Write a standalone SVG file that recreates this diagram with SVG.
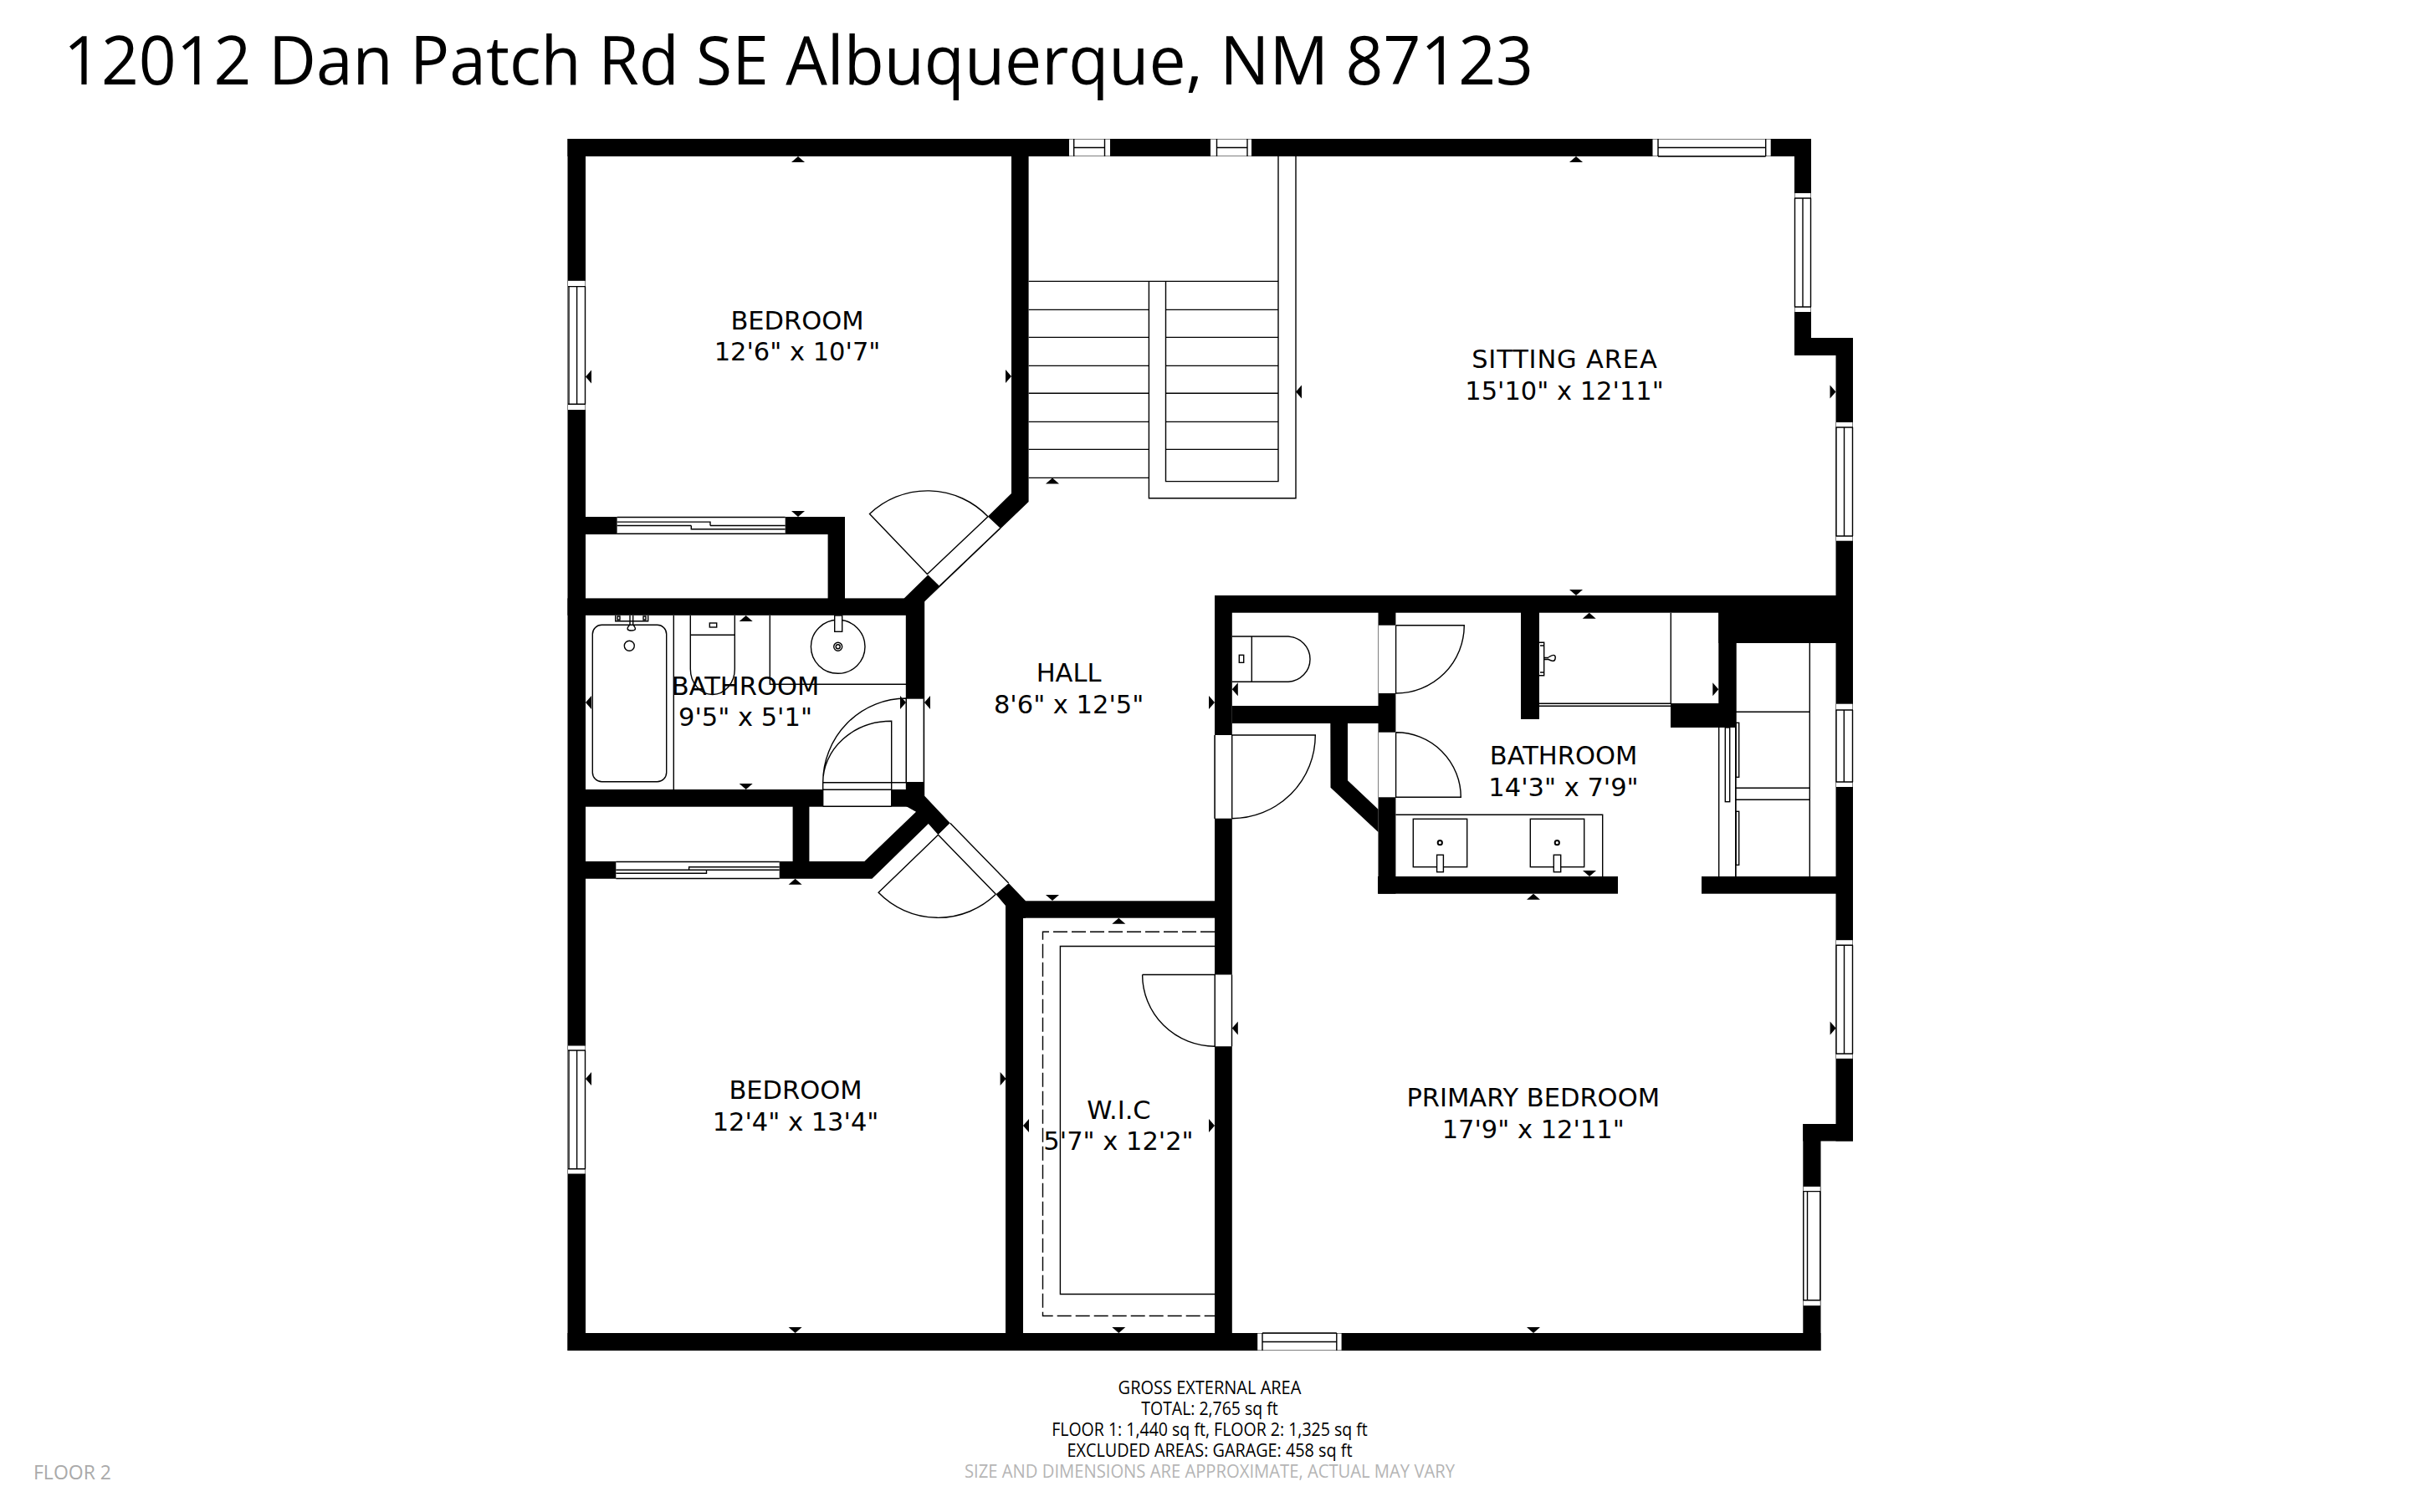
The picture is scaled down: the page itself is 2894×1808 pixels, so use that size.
<svg xmlns="http://www.w3.org/2000/svg" width="2894" height="1808" viewBox="0 0 2894 1808">
<style>
.w{fill:#000}
.o{fill:#fff}
.l{fill:none;stroke:#000;stroke-width:1.4}
.d{fill:none;stroke:#000;stroke-width:1.4;stroke-dasharray:17 5}
.t{font-family:"DejaVu Sans",Verdana,sans-serif;font-size:30.5px;text-anchor:middle;fill:#000}
.f{font-family:"Open Sans","Noto Sans",sans-serif;font-size:21px;text-anchor:middle;fill:#000}
.g{fill:#b5b5b5}
.p{font-family:"Open Sans","Noto Sans",sans-serif;font-size:23px;fill:#aaa}
.h{font-family:"Open Sans","Noto Sans",sans-serif;font-size:81px;fill:#000}
</style>
<defs>
<path id="u" d="M-8 7H8L0 0Z"/>
<path id="n" d="M-8 -7H8L0 0Z"/>
<path id="r" d="M-7 -8V8L0 0Z"/>
<path id="e" d="M7 -8V8L0 0Z"/>
</defs>
<rect width="2894" height="1808" fill="#fff"/>
<text id="title" class="h" x="76" y="100.5" textLength="1757" lengthAdjust="spacingAndGlyphs">12012 Dan Patch Rd SE Albuquerque, NM 87123</text>

<g id="stairs" class="l">
<path d="M1229.6 336.4H1528M1229.6 370.4H1373.4M1393.5 370.4H1528M1229.6 403.4H1373.4M1393.5 403.4H1528M1229.6 437.4H1373.4M1393.5 437.4H1528M1229.6 470.3H1373.4M1393.5 470.3H1528M1229.6 504.4H1373.4M1393.5 504.4H1528M1229.6 537.4H1373.4M1393.5 537.4H1528M1229.6 571.4H1373.4"/>
<path d="M1528 187V575.6H1393.5V336.4M1549 187V595.8H1373.4V336.4"/>
</g>

<g id="fixtures" class="l">
<rect x="708.3" y="747.3" width="88.4" height="187.4" rx="11"/>
<path d="M805.3 736V944"/>
<path d="M735.7 736V742.7H774.7V736M738 737V741H741V737ZM769 737V741H772V737Z"/>
<path d="M753 736V747M756.7 736V747M753 747C748 752 750 754 755 754S761 752 756.7 747"/>
<circle cx="752.3" cy="772.3" r="6"/>
<path d="M825.3 736V800A26.5 30.5 0 0 0 878.3 800V736M825.3 759.3H878.3"/>
<rect x="848.3" y="745" width="8.4" height="5"/>
<path d="M920.3 736V818.3H1083"/>
<ellipse cx="1001.7" cy="773.3" rx="32.3" ry="32"/>
<rect x="997.7" y="736" width="9" height="19.3" fill="#fff"/>
<circle cx="1001.7" cy="773.3" r="5"/><circle cx="1001.7" cy="773.3" r="2.5"/>
<path d="M1472.8 761H1540A27.7 27.2 0 0 1 1540 815.3H1472.8M1496.3 761V815.3"/>
<rect x="1481.3" y="783.3" width="5.4" height="9"/>
<path d="M1840 768.3H1845.7V807.7H1840M1841 772H1845M1841 804H1845M1845.7 786.5H1851M1845.7 788.5H1851C1854 790 1858 792 1859 788S1858 781 1851 786"/>
<path d="M1840 841.3H1997.3M1840 844.3H1997.3M1997.3 732.7V841.3"/>
<path d="M1668.4 974.3H1915.7V1048"/>
<rect x="1689.3" y="979.3" width="64.4" height="57.4"/>
<rect x="1829.3" y="979.3" width="64.4" height="57.4"/>
<rect x="1717.6" y="1022.3" width="7.8" height="20.4" fill="#fff"/>
<rect x="1857.3" y="1022.3" width="8.4" height="20.4" fill="#fff"/>
<circle cx="1721.3" cy="1007.7" r="2.6" stroke-width="2"/>
<circle cx="1861.3" cy="1007.7" r="2.6" stroke-width="2"/>
<path d="M2075 769V1048M2163.3 769V1048M2075 851.3H2163.3M2075 942.3H2163.3M2075 956.3H2163.3M2054.7 870V1048M2074.7 870V1048"/>
<rect x="2062.3" y="870" width="5.4" height="88.7"/>
<rect x="2075" y="864.3" width="3.7" height="65"/>
<rect x="2075" y="970.3" width="3.7" height="64"/>
<path class="d" d="M1452 1114.2H1246.5V1573.5H1452"/>
<path d="M1452 1131.5H1267.4V1547.5H1452"/>
</g>

<g id="walls" class="w">
<rect x="678.5" y="166" width="1486.5" height="21"/>
<rect x="678.5" y="166" width="21.5" height="1449"/>
<rect x="678.5" y="1594" width="1498" height="21"/>
<rect x="2145" y="166" width="20" height="259"/>
<rect x="2145" y="404" width="70" height="21"/>
<rect x="2194.5" y="404" width="20.5" height="960.5"/>
<rect x="2155.3" y="1344" width="59.7" height="20.5"/>
<rect x="2155.3" y="1344" width="21.2" height="271"/>
<polygon points="1209,166 1229.6,166 1229.6,600 1105,719.4 1105,735 1080.7,735 1080.7,715.4 1209,590"/>
<rect x="700" y="618" width="310" height="21"/>
<rect x="989.6" y="618" width="20.4" height="100"/>
<rect x="678.5" y="715.4" width="426.5" height="20.4"/>
<rect x="1082.8" y="715" width="22.4" height="237"/>
<rect x="679" y="944" width="426" height="20.7"/>
<rect x="947.6" y="964" width="19.8" height="70"/>
<polygon points="700,1030 1033.3,1030 1095,970.7 1083,964 1105.2,951.7 1135.8,984.3 1121.5,998.3 1109.8,985 1042.4,1050.7 700,1050.7"/>
<polygon points="1190.4,1069.3 1205.7,1056 1226,1077.3 1226,1097.7 1202,1097.7 1202,1083"/>
<rect x="1202" y="1077.3" width="250" height="20.4"/>
<rect x="1202" y="1077.3" width="21" height="525"/>
<rect x="1452" y="712" width="20.8" height="903"/>
<rect x="1452" y="712" width="763" height="20.7"/>
<rect x="2054.3" y="712" width="160.7" height="57"/>
<rect x="2054.3" y="732" width="20.7" height="138"/>
<rect x="1997" y="841" width="78" height="29"/>
<rect x="1818" y="732" width="22" height="128"/>
<rect x="1647.5" y="732" width="20.9" height="336.7"/>
<rect x="1472.8" y="844" width="195" height="21"/>
<polygon points="1590.3,860 1611,860 1611,933.3 1647.5,967.7 1647.5,995 1590.5,941.7"/>
<rect x="1647" y="1048" width="287" height="20.7"/>
<rect x="2034" y="1048" width="181" height="20.7"/>
</g>

<g id="openings" class="o">
<rect x="1278" y="166.5" width="49" height="20"/>
<rect x="1447" y="166.5" width="49" height="20"/>
<rect x="1975.5" y="166.5" width="141.2" height="20"/>
<rect x="1503.2" y="1594.5" width="100.4" height="20"/>
<rect x="679" y="335.8" width="20.5" height="154.2"/>
<rect x="679" y="1250.5" width="20.5" height="153"/>
<rect x="2145.5" y="231" width="19" height="142"/>
<rect x="2195" y="505" width="19.5" height="141.7"/>
<rect x="2195" y="841.7" width="19.5" height="99.3"/>
<rect x="2195" y="1124.2" width="19.5" height="141.6"/>
<rect x="2155.8" y="1418.9" width="20" height="142.3"/>
<rect x="737.6" y="618.3" width="201.1" height="20"/>
<rect x="736.3" y="1030.4" width="195.4" height="20"/>
<polygon points="1181,617.8 1195.6,631.6 1123,700.8 1108.4,686.6"/>
<polygon points="1121.5,998.3 1135.8,984.3 1205.7,1056 1190.4,1069.3"/>
<rect x="1083.3" y="835.7" width="21" height="99.6"/>
<rect x="983.7" y="944" width="82" height="20.3"/>
<rect x="1452.5" y="879" width="20" height="99.7"/>
<rect x="1452.5" y="1165.5" width="20" height="85.7"/>
<rect x="1648" y="747.7" width="20.5" height="81.3"/>
<rect x="1648" y="875.7" width="20.5" height="77.6"/>
</g>

<g id="windows" class="l">
<path d="M1283.7 166V187M1320.5 166V187M1283.7 176.5H1320.5"/>
<path d="M1454.5 166V187M1491 166V187M1454.5 176.5H1491"/>
<path d="M1982 166V187M2110.7 166V187M1982 176.5H2110.7M1982 187H2110.7"/>
<path d="M1509 1594V1615M1597.8 1594V1615M1509 1604.5H1597.8M1509 1594H1597.8"/>
<path d="M679 342.6H700M679 483.3H700M689.6 342.6V483.3M680 342.6V483.3M699.5 342.6V483.3"/>
<path d="M679 1256H700M679 1397.8H700M689.6 1256V1397.8M680 1256V1397.8M699.5 1256V1397.8"/>
<path d="M2145 237H2165M2145 367H2165M2155 237V367M2145.5 237V367M2164.5 237V367"/>
<path d="M2194.5 511H2215M2194.5 641H2215M2204.5 511V641M2195 511V641M2214.5 511V641"/>
<path d="M2194.5 849H2215M2194.5 935H2215M2204.3 849V935M2195 849V935M2214.5 849V935"/>
<path d="M2194.5 1130.3H2215M2194.5 1260H2215M2204.5 1130.3V1260M2195 1130.3V1260M2214.5 1130.3V1260"/>
<path d="M2155.3 1424.6H2176.3M2155.3 1554.7H2176.3M2160.5 1424.6V1554.7M2155.8 1424.6V1554.7M2175.8 1424.6V1554.7"/>
<path d="M737.6 618.5H938.7M737.6 638.3H938.7M737.6 628.5H826.3M849 628.5H938.7M737.6 624.1H849V628.5M826.3 628.5V632.8H938.7"/>
<path d="M736.3 1030.5H931.7M736.3 1050.5H931.7M823.6 1040.3V1036.7H931.7M736.3 1040.3H931.7M736.3 1044.3H844.5V1040.3"/>
</g>

<g id="doors" class="l">
<path d="M1181 617.8L1108.4 686.6L1039.5 614.6A100 100 0 0 1 1181 617.8M1195.6 631.6L1123 700.8"/>
<path d="M1135.8 984.3L1205.7 1056M1121.5 998.3L1190.4 1069.3M1121.5 998.3L1050.1 1067.3A99.3 99.3 0 0 0 1190.4 1069.3"/>
<path d="M983.7 935.7A99.6 100.7 0 0 1 1083.3 835M983.7 935.7A82 73.4 0 0 1 1065.7 862.3V964.3M983.7 935.7H1104.3M983.7 944.3H1065.7M983.7 935.7V964.3M1083.3 835V935.7M1104.3 835.7V935.7M983.7 964.3H1065.7"/>
<path d="M1668.6 747.7H1750.3A81.6 81.3 0 0 1 1668.6 829V747.7"/>
<path d="M1668.6 875.7A77.7 77.6 0 0 1 1746.3 953.3H1668.6V875.7"/>
<path d="M1452 879V979M1472.7 978.7V879H1572.3A99.6 99.7 0 0 1 1472.7 978.7"/>
<path d="M1472.5 1165.5V1251.2M1365.6 1165.5H1452.2V1251.2A86.6 85.7 0 0 1 1365.6 1165.5"/>
</g>

<g id="measure-marks" class="w">
<use href="#u" x="954" y="187"/><use href="#r" x="1209" y="450"/><use href="#e" x="700" y="450.5"/><use href="#n" x="954" y="618"/>
<use href="#u" x="1258" y="571.5"/><use href="#u" x="1884" y="187"/><use href="#e" x="1549" y="468.4"/><use href="#r" x="2194.5" y="468.4"/><use href="#n" x="1884" y="712"/>
<use href="#u" x="891.7" y="736"/><use href="#n" x="891.7" y="944"/><use href="#e" x="700" y="840"/><use href="#r" x="1083" y="840"/>
<use href="#e" x="1105" y="840"/><use href="#r" x="1452" y="840"/><use href="#n" x="1258" y="1077"/>
<use href="#u" x="950.6" y="1050.7"/><use href="#n" x="950.6" y="1594"/><use href="#e" x="700" y="1290"/><use href="#r" x="1202.6" y="1290"/>
<use href="#u" x="1337.3" y="1097.7"/><use href="#n" x="1337.3" y="1594"/><use href="#e" x="1223" y="1346"/><use href="#r" x="1452" y="1346"/>
<use href="#e" x="1472.8" y="824.3"/><use href="#r" x="2054.3" y="824.3"/><use href="#u" x="1899.7" y="732.7"/><use href="#n" x="1900" y="1048"/>
<use href="#u" x="1833" y="1068.7"/><use href="#n" x="1833" y="1594"/><use href="#e" x="1472.8" y="1229.4"/><use href="#r" x="2194.6" y="1229.4"/>
</g>

<g id="room-bedroom-1"><text class="t" x="953" y="394">BEDROOM</text><text class="t" x="953" y="431">12'6" x 10'7"</text></g>
<g id="room-sitting"><text class="t" x="1870" y="440" textLength="221.7">SITTING AREA</text><text class="t" x="1870" y="478">15'10" x 12'11"</text></g>
<g id="room-bath-1"><text class="t" x="891" y="831.3">BATHROOM</text><text class="t" x="891" y="868.3">9'5" x 5'1"</text></g>
<g id="room-hall"><text class="t" x="1277.6" y="815.3">HALL</text><text class="t" x="1277.6" y="852.7">8'6" x 12'5"</text></g>
<g id="room-bath-2"><text class="t" x="1869" y="914.3">BATHROOM</text><text class="t" x="1869" y="951.7">14'3" x 7'9"</text></g>
<g id="room-bedroom-2"><text class="t" x="951" y="1314.4">BEDROOM</text><text class="t" x="951" y="1352">12'4" x 13'4"</text></g>
<g id="room-wic"><text class="t" x="1337.5" y="1337.7">W.I.C</text><text class="t" x="1337" y="1374.9">5'7" x 12'2"</text></g>
<g id="room-primary"><text class="t" x="1832.7" y="1323">PRIMARY BEDROOM</text><text class="t" x="1832.7" y="1360.7">17'9" x 12'11"</text></g>

<g id="footer">
<text class="f" x="1446" y="1667.3" textLength="218.8" lengthAdjust="spacingAndGlyphs">GROSS EXTERNAL AREA</text>
<text class="f" x="1446" y="1692.3" textLength="163.4" lengthAdjust="spacingAndGlyphs">TOTAL: 2,765 sq ft</text>
<text class="f" x="1446" y="1717" textLength="377.7" lengthAdjust="spacingAndGlyphs">FLOOR 1: 1,440 sq ft, FLOOR 2: 1,325 sq ft</text>
<text class="f" x="1446" y="1742" textLength="341" lengthAdjust="spacingAndGlyphs">EXCLUDED AREAS: GARAGE: 458 sq ft</text>
<text class="f g" x="1446" y="1766.7" textLength="586" lengthAdjust="spacingAndGlyphs">SIZE AND DIMENSIONS ARE APPROXIMATE, ACTUAL MAY VARY</text>
<text class="p" x="40" y="1769" textLength="93" lengthAdjust="spacingAndGlyphs">FLOOR 2</text>
</g>
</svg>
